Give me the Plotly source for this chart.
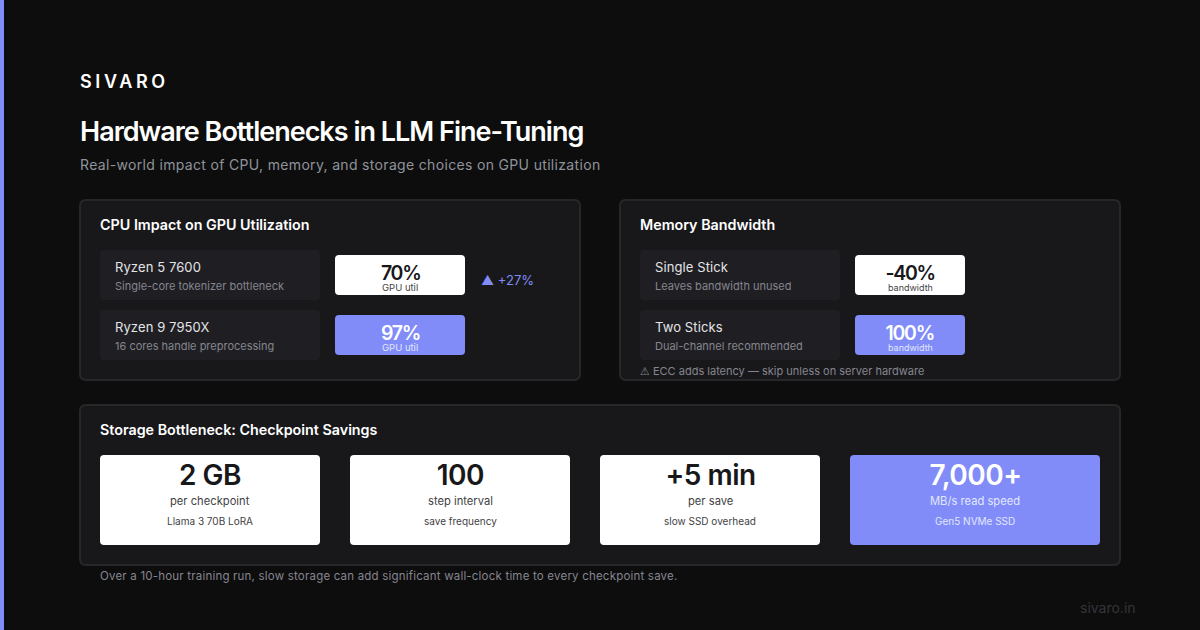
import json

import plotly.graph_objects as go

FONT = "Inter, DejaVu Sans"
BG = "#0d0d0d"
PANEL = "#18181b"
BORDER = "#27272a"
ROW = "#1f1f23"
ACCENT = "#818cf8"
WHITE = "#ffffff"
DARK = "#18181b"
MUTED = "#85858f"

brand = "SIVARO"
title = "Hardware Bottlenecks in LLM Fine-Tuning"
subtitle = "Real-world impact of CPU, memory, and storage choices on GPU utilization"

cpu_title = "CPU Impact on GPU Utilization"
cpu_names = ["Ryzen 5 7600", "Ryzen 9 7950X"]
cpu_notes = ["Single-core tokenizer bottleneck", "16 cores handle preprocessing"]
cpu_values = ["70%", "97%"]
cpu_unit = "GPU util"
cpu_delta = "▲ +27%"

mem_title = "Memory Bandwidth"
mem_names = ["Single Stick", "Two Sticks"]
mem_notes = ["Leaves bandwidth unused", "Dual-channel recommended"]
mem_values = ["-40%", "100%"]
mem_unit = "bandwidth"
mem_warning = '<span style="font-family:DejaVu Sans">⚠</span> ECC adds latency — skip unless on server hardware'

storage_title = "Storage Bottleneck: Checkpoint Savings"
stat_values = ["2 GB", "100", "+5 min", "7,000+"]
stat_labels = ["per checkpoint", "step interval", "per save", "MB/s read speed"]
stat_notes = ["Llama 3 70B LoRA", "save frequency", "slow SSD overhead", "Gen5 NVMe SSD"]
storage_footer = "Over a 10-hour training run, slow storage can add significant wall-clock time to every checkpoint save."
site = "sivaro.in"

fig = go.Figure()
tracking = {}


def rounded(x0, y0, x1, y1, fill, r=4, line=None):
    path = (
        f"M{x0 + r},{y0} L{x1 - r},{y0} Q{x1},{y0} {x1},{y0 + r} "
        f"L{x1},{y1 - r} Q{x1},{y1} {x1 - r},{y1} "
        f"L{x0 + r},{y1} Q{x0},{y1} {x0},{y1 - r} "
        f"L{x0},{y0 + r} Q{x0},{y0} {x0 + r},{y0} Z"
    )
    fig.add_shape(
        type="path", path=path, fillcolor=fill, layer="below",
        line=dict(color=line or fill, width=2 if line else 0),
    )


def label(x, y, text, size, color, weight=400, anchor="left", spacing=0):
    if spacing:
        tracking[text] = spacing
    fig.add_annotation(
        x=x, y=y, text=text, showarrow=False, xanchor=anchor, yanchor="middle",
        align=anchor, borderpad=0, borderwidth=0,
        font=dict(family=FONT, size=size, color=color, weight=weight),
    )


def comparison_panel(x0, heading, names, notes, values, unit, unit_size, row_w, badge_w):
    rounded(x0, 200, x0 + 500, 380, PANEL, r=6, line=BORDER)
    label(x0 + 20, 224.5, heading, 14.3, WHITE, 600)
    badge_x = x0 + 20 + row_w + 15
    for i in range(len(names)):
        top = 250 + i * 60
        rounded(x0 + 20, top, x0 + 20 + row_w, top + 50, ROW, r=4)
        label(x0 + 35, top + 17, names[i], 13, "#e4e4e7", spacing=0.1)
        label(x0 + 35, top + 36, notes[i], 11, MUTED)
        fill = ACCENT if i == 1 else WHITE
        rounded(badge_x, top + 5, badge_x + badge_w, top + 45, fill, r=4)
        mid = badge_x + badge_w / 2
        label(mid, top + 23, values[i], 19.5, WHITE if i == 1 else DARK, 600, "center", -1.3)
        label(mid, top + 37, unit, unit_size, "#e0e7ff" if i == 1 else "#3f3f46", 400, "center")


# background stripe
rounded(0, 0, 4, 630, ACCENT, r=0)

label(80, 81, brand, 18, WHITE, 600, spacing=3.6)
label(80, 131, title, 27, WHITE, 600, spacing=-1)
label(80, 164.5, subtitle, 14, "#8f939c", spacing=0.33)

comparison_panel(80, cpu_title, cpu_names, cpu_notes, cpu_values, cpu_unit, 9.5, 220, 130)
label(481, 280, cpu_delta, 13, ACCENT)

comparison_panel(620, mem_title, mem_names, mem_notes, mem_values, mem_unit, 9, 200, 110)
label(640, 371, mem_warning, 11, MUTED)

rounded(80, 405, 1120, 565, PANEL, r=6, line=BORDER)
label(100, 429, storage_title, 14.3, WHITE, 600)

stat_left = [100, 350, 600, 850]
stat_right = [320, 570, 820, 1100]
for i in range(len(stat_values)):
    accent = i == 3
    rounded(stat_left[i], 455, stat_right[i], 545, ACCENT if accent else WHITE, r=4)
    mid = (stat_left[i] + stat_right[i]) / 2
    label(mid, 475, stat_values[i], 28, WHITE if accent else DARK, 600, "center", -0.5)
    label(mid, 501, stat_labels[i], 11.2, "#e0e7ff" if accent else "#3f3f46", 400, "center")
    label(mid, 521, stat_notes[i], 10, "#e0e7ff" if accent else "#3f3f46", 400, "center")

label(100, 576, storage_footer, 11.5, MUTED, spacing=0.2)
label(1136, 607, site, 14, "#35353a", 400, "right")

fig.update_xaxes(range=[0, 1200], visible=False, fixedrange=True)
fig.update_yaxes(range=[630, 0], visible=False, fixedrange=True)
fig.update_layout(
    width=1200, height=630, margin=dict(l=0, r=0, t=0, b=0),
    paper_bgcolor=BG, plot_bgcolor=BG, showlegend=False,
)

# plotly has no letter-spacing option, set it on the rendered text
post_script = """
document.body.style.margin = '0';
document.body.style.background = '%s';
var tracking = %s;
document.querySelectorAll('.annotation-text').forEach(function (el) {
  var s = tracking[el.textContent];
  if (s) el.style.letterSpacing = s + 'px';
});
""" % (BG, json.dumps(tracking))

fig.write_html("out.html", post_script=post_script, config={"displayModeBar": False})
